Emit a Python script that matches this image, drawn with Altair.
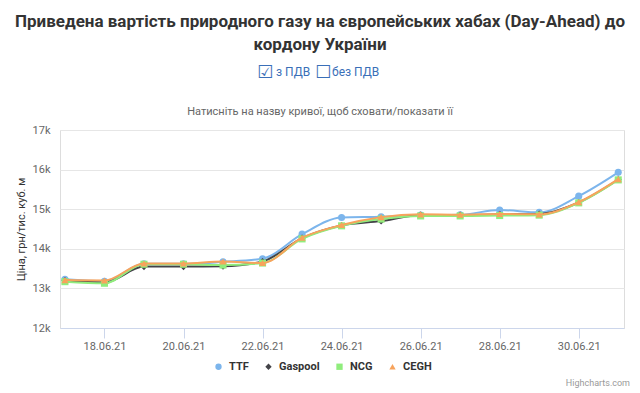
import altair as alt
import pandas as pd

dates = ["2021-06-17", "2021-06-18", "2021-06-19", "2021-06-20", "2021-06-21",
         "2021-06-22", "2021-06-23", "2021-06-24", "2021-06-25", "2021-06-26",
         "2021-06-27", "2021-06-28", "2021-06-29", "2021-06-30", "2021-07-01"]
series_names = ["TTF", "Gaspool", "NCG", "CEGH"]
ttf = [13230, 13180, 13620, 13620, 13670, 13750, 14370, 14790, 14810, 14850, 14860, 14980, 14920, 15330, 15930]
gaspool = [13200, 13150, 13550, 13550, 13560, 13680, 14270, 14590, 14700, 14850, 14850, 14870, 14880, 15170, 15750]
ncg = [13170, 13130, 13610, 13610, 13590, 13640, 14250, 14580, 14750, 14830, 14830, 14840, 14850, 15160, 15740]
cegh = [13210, 13200, 13630, 13630, 13680, 13640, 14280, 14600, 14800, 14870, 14860, 14880, 14870, 15180, 15760]
values = {"TTF": ttf, "Gaspool": gaspool, "NCG": ncg, "CEGH": cegh}
colors = ["#7cb5ec", "#434348", "#90ed7d", "#f7a35c"]
shapes = ["circle", "diamond", "square", "triangle-up"]
tick_dates = ["2021-06-18", "2021-06-20", "2021-06-22", "2021-06-24", "2021-06-26", "2021-06-28", "2021-06-30"]
y_ticks = [12000, 13000, 14000, 15000, 16000, 17000]

title_lines = ["Приведена вартість природного газу на європейських хабах (Day-Ahead) до",
               "кордону України"]
subtitle = "Натисніть на назву кривої, щоб сховати/показати її"
y_title = "Ціна, грн/тис. куб. м"

rows = []
for s in series_names:
    for d, v in zip(dates, values[s]):
        rows.append({"date": d + "T00:00:00Z", "series": s, "value": v})
df = pd.DataFrame(rows)

FONT = "Roboto"
W, H = 564, 198

def dt(s, h=0, m=0):
    return alt.DateTime(year=int(s[:4]), month=int(s[5:7]), date=int(s[8:10]), hours=h, minutes=m, utc=True)

xscale = alt.Scale(type="utc", domain=[dt("2021-06-16", 21), dt("2021-07-01", 3, 30)])
yscale = alt.Scale(domain=[12000, 17000], nice=False, zero=False)
cscale = alt.Scale(domain=series_names, range=colors)
sscale = alt.Scale(domain=series_names, range=shapes)

xaxis = alt.Axis(values=[dt(t) for t in tick_dates],
                 labelExpr="utcFormat(datum.value, '%d.%m.%y')", title=None, grid=False,
                 domainColor="#ccd6eb", tickColor="#ccd6eb", tickSize=10,
                 labelColor="#666666", labelFontSize=11, labelFont=FONT, labelPadding=2)
yaxis = alt.Axis(values=y_ticks, title=y_title, titleFont=FONT, titleFontSize=11,
                 titleColor="#333333", titleFontWeight="normal", titlePadding=6,
                 labelColor="#666666", labelFontSize=11, labelFont=FONT, labelPadding=10,
                 domain=False, ticks=False, gridColor="#e6e6e6", labelExpr="datum.value/1000 + 'k'")

X = alt.X("date:T", scale=xscale, axis=xaxis)
Y = alt.Y("value:Q", scale=yscale, axis=yaxis)

legend = alt.Legend(orient="none", legendX=153, legendY=231, direction="horizontal",
                    labelFont=FONT, labelFontSize=11, labelFontWeight="bold",
                    labelColor="#333333", symbolSize=40, columnPadding=14,
                    labelOffset=5, title=None)

layers = []
for i, s in enumerate(series_names):
    sub = alt.Chart(df).transform_filter(alt.datum.series == s)
    line = sub.mark_line(interpolate="monotone", strokeWidth=2, color=colors[i]).encode(x=X, y=Y)
    pts = sub.mark_point(filled=True, size=50, opacity=1).encode(
        x=X, y=Y,
        color=alt.Color("series:N", scale=cscale, title=None, legend=legend),
        shape=alt.Shape("series:N", scale=sscale, title=None, legend=legend),
    )
    layers += [line, pts]

def txt(text, x, y, size, color, weight="normal", align="center", font=FONT):
    return alt.Chart(pd.DataFrame({"t": [text]})).mark_text(
        text=text, fontSize=size, color=color, fontWeight=weight, align=align,
        baseline="middle", font=font).encode(x=alt.value(x), y=alt.value(y))

cx = 320 - 60
texts = [
    txt(title_lines[0], cx, -108, 17, "#333333", "bold"),
    txt(title_lines[1], cx, -85, 17, "#333333", "bold"),
    txt("☑", 197, -57, 18, "#3a6fb8", align="left", font="DejaVu Sans"),
    txt("з ПДВ", 216, -58, 12, "#3a6fb8", align="left"),
    txt("☐", 255, -57, 18, "#3a6fb8", align="left", font="DejaVu Sans"),
    txt("без ПДВ", 272, -58, 12, "#3a6fb8", align="left"),
    txt(subtitle, cx, -18, 11, "#666666"),
    txt("Highcharts.com", 570, 253, 9, "#999999", align="right"),
]

chart = alt.layer(*layers, *texts).properties(
    width=W, height=H,
    autosize=alt.AutoSizeParams(type="none"),
    padding={"left": 52, "top": 122, "right": 8, "bottom": 62},
).configure_view(stroke=None).configure(background="white")

chart.save("out.html", embed_options={"renderer": "svg", "actions": False})
